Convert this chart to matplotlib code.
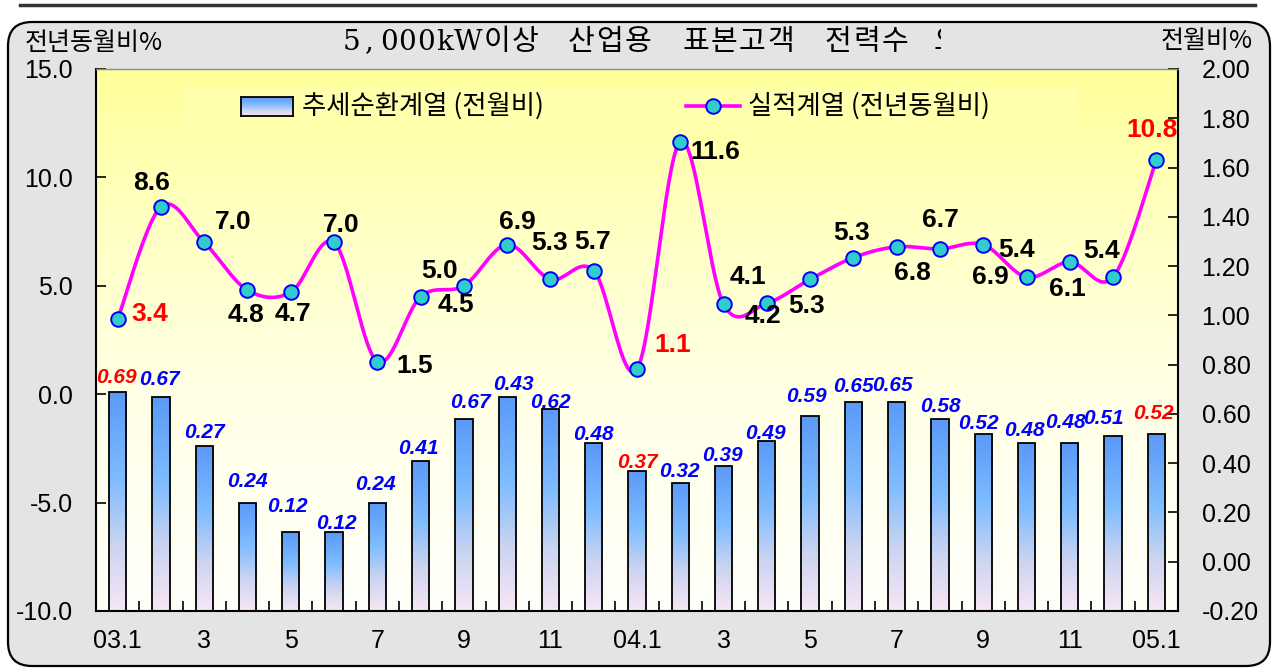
import numpy as np
import matplotlib
matplotlib.use('Agg')
import matplotlib.pyplot as plt
from matplotlib.patches import Rectangle, FancyBboxPatch
from matplotlib.lines import Line2D
from matplotlib.colors import LinearSegmentedColormap
from matplotlib.transforms import IdentityTransform, Bbox

plt.rcParams['font.family'] = ['Liberation Sans', 'Noto Sans CJK KR', 'DejaVu Sans']

# ---------------- data ----------------
month_labels = ['03.1', '', '3', '', '5', '', '7', '', '9', '', '11', '',
                '04.1', '', '3', '', '5', '', '7', '', '9', '', '11', '', '05.1']
trend_mom = [0.69, 0.67, 0.47, 0.24, 0.12, 0.12, 0.24, 0.41, 0.58, 0.67, 0.62, 0.48,
             0.37, 0.32, 0.39, 0.49, 0.59, 0.65, 0.65, 0.58, 0.52, 0.48, 0.48, 0.51, 0.52]
trend_text = ['0.69', '0.67', '0.27', '0.24', '0.12', '0.12', '0.24', '0.41', '0.67', '0.43',
              '0.62', '0.48', '0.37', '0.32', '0.39', '0.49', '0.59', '0.65', '0.65', '0.58',
              '0.52', '0.48', '0.48', '0.51', '0.52']
actual_yoy = [3.45, 8.65, 7.0, 4.8, 4.7, 7.0, 1.5, 4.5, 5.0, 6.9, 5.3, 5.7,
              1.15, 11.65, 4.15, 4.2, 5.3, 6.3, 6.8, 6.7, 6.9, 5.4, 6.1, 5.4, 10.8]
actual_text = ['3.4', '8.6', '7.0', '4.8', '4.7', '7.0', '1.5', '4.5', '5.0', '6.9', '5.3', '5.7',
               '1.1', '11.6', '4.1', '4.2', '5.3', '5.3', '6.8', '6.7', '6.9', '5.4', '6.1', '5.4', '10.8']
highlight_idx = [0, 12, 24]
bar_name = '추세순환계열 (전월비)'
line_name = '실적계열 (전년동월비)'
title = '5,000kW이상 산업용 표본고객 전력수요'
left_unit = '전년동월비%'
right_unit = '전월비%'

# label offsets in pixels (dx right, dy down)
line_off = [(32, -5), (-9, -24), (29, -20), (-1, 25), (2, 22), (7, -17), (37, 4), (35, 8),
            (-24, -15), (10, -23), (-1, -36), (-1, -29), (36, -24), (35, 10), (24, -27),
            (-4, 13), (-4, 27), (-2, -25), (16, 26), (0, -29), (7, 32), (-10, -27),
            (-2, 27), (-12, -26), (-4, -30)]
bar_off = [(-1, -14), (-1, -17), (0, -13), (0, -21), (-3, -26), (2, -9), (-2, -18), (-2, -12),
           (7, -16), (6, -12), (0, -6), (0, -9), (0, -8), (-1, -11), (-1, -10), (-1, -8),
           (-4, -20), (0, -15), (-4, -16), (0, -12), (-5, -10), (-2, -13), (-4, -21),
           (-10, -18), (-3, -20)]

W, H = 1273, 668
fig = plt.figure(figsize=(W / 100, H / 100), dpi=100)
fig.patch.set_facecolor('white')

# frame
frame = FancyBboxPatch((8, H - 666), 1262, 644, boxstyle='round,pad=0,rounding_size=24',
                       transform=IdentityTransform(), facecolor='#E4E4E4', edgecolor='black',
                       linewidth=1.6, zorder=0.2)
fig.add_artist(frame)
fig.add_artist(Line2D([20, 1255], [H - 5, H - 5], transform=IdentityTransform(),
                      color='#333333', linewidth=2.5, zorder=0.3))

# axes
L, R, T, B = 96, 1178, 69, 611
ax = fig.add_axes([L / W, (H - B) / H, (R - L) / W, (B - T) / H])
axb = ax.twinx()
ax.set_zorder(3)
ax.patch.set_visible(False)
axb.set_zorder(2)

n = len(actual_yoy)
x = np.arange(n)
ax.set_xlim(-0.5, n - 0.5)
ax.set_ylim(-10, 15)
axb.set_ylim(-0.2, 2.0)

# background gradient
bg_cmap = LinearSegmentedColormap.from_list('bg', [(0, '#FFFFFB'), (0.4, '#FFFFE6'),
                                                   (0.75, '#FFFFBE'), (1.0, '#FFFF99')])
grad = np.linspace(0, 1, 256).reshape(-1, 1)
axb.imshow(grad, extent=[-0.5, n - 0.5, -0.2, 2.0], origin='lower', aspect='auto',
           cmap=bg_cmap, zorder=0)

# legend band
axb.add_patch(Rectangle(((183 - L) / (R - L), (B - 135) / (B - T)), (1077 - 183) / (R - L),
                        (135 - 87) / (B - T), transform=axb.transAxes, facecolor='#FFFFAC',
                        edgecolor='none', zorder=0.5))

# bars with gradient
bar_cmap = LinearSegmentedColormap.from_list('bar', [(0, '#F8E6F5'), (0.3, '#CBD4F0'),
                                                     (0.6, '#7FBCFF'), (1.0, '#5A99F8')])
bw = 0.40
base = -0.2
heights = np.array(trend_mom) - base
bars = axb.bar(x, heights, bottom=base, width=bw, facecolor='none', edgecolor='black',
               linewidth=1.3, zorder=3)
for rect in bars:
    x0 = rect.get_x()
    im = axb.imshow(grad, extent=[x0, x0 + rect.get_width(), base, base + rect.get_height()],
                    origin='lower', aspect='auto', cmap=bar_cmap, zorder=2)
    im.set_clip_path(rect)
axb.set_xlim(-0.5, n - 0.5)
axb.set_ylim(-0.2, 2.0)

for i, (v, t) in enumerate(zip(trend_mom, trend_text)):
    dx, dy = bar_off[i]
    axb.annotate(t, (x[i], v), xytext=(dx, -dy), textcoords='offset pixels',
                 ha='center', va='center', fontsize=15, fontweight='bold', fontstyle='italic',
                 color='#FF0000' if i in highlight_idx else '#0000FF', zorder=4)

# smoothed line
def smooth(xs, ys, m=24):
    P = np.column_stack([xs, ys]).astype(float)
    P = np.vstack([P[0], P, P[-1]])
    out = []
    t = np.linspace(0, 1, m)[:, None]
    for i in range(1, len(P) - 2):
        p0, p1, p2, p3 = P[i - 1], P[i], P[i + 1], P[i + 2]
        c1 = p1 + (p2 - p0) / 6
        c2 = p2 - (p3 - p1) / 6
        seg = (1 - t) ** 3 * p1 + 3 * (1 - t) ** 2 * t * c1 + 3 * (1 - t) * t ** 2 * c2 + t ** 3 * p2
        out.append(seg if i == 1 else seg[1:])
    return np.vstack(out)

curve = smooth(x, actual_yoy)
ax.plot(curve[:, 0], curve[:, 1], color='#FF00FF', linewidth=2.6, zorder=3)
ax.plot(x, actual_yoy, linestyle='none', marker='o', markersize=10.5,
        markerfacecolor='#33CCCC', markeredgecolor='#0000FF', markeredgewidth=1.4, zorder=4)
for i, (v, t) in enumerate(zip(actual_yoy, actual_text)):
    dx, dy = line_off[i]
    ax.annotate(t, (x[i], v), xytext=(dx, -dy), textcoords='offset pixels',
                ha='center', va='center', fontsize=19, fontweight='bold',
                color='#FF0000' if i in highlight_idx else '#000000', zorder=5)

# axes styling
ax.set_yticks([-10, -5, 0, 5, 10, 15])
ax.set_yticklabels(['-10.0', '-5.0', '0.0', '5.0', '10.0', '15.0'])
ax.tick_params(axis='y', direction='in', length=7, width=1.2, labelsize=18, pad=16.5)
rticks = np.round(np.arange(-0.2, 2.001, 0.2), 2)
axb.set_yticks(rticks)
axb.set_yticklabels([f'{v:.2f}' for v in rticks])
axb.tick_params(axis='y', direction='in', length=7, width=1.2, labelsize=18, pad=17)

ax.set_xticks(np.arange(0.5, n - 0.5, 1))
ax.set_xticklabels([])
ax.tick_params(axis='x', which='major', direction='in', length=7, width=1.2)
ax.set_xticks(x, minor=True)
ax.set_xticklabels(month_labels, minor=True)
ax.tick_params(axis='x', which='minor', length=0, labelsize=18, pad=13)

for sp in ['left', 'bottom', 'right']:
    ax.spines[sp].set_color('black')
    ax.spines[sp].set_linewidth(1.5)
ax.spines['top'].set_color('#8A8A8A')
ax.spines['top'].set_linewidth(1.0)
for sp in axb.spines.values():
    sp.set_visible(False)

# unit labels
fig.text(25 / W, 1 - 43 / H, left_unit, ha='left', va='center', fontsize=18,
         family=['Noto Sans CJK KR', 'Liberation Sans'])
fig.text(1253 / W, 1 - 41 / H, right_unit, ha='right', va='center', fontsize=18,
         family=['Noto Sans CJK KR', 'Liberation Sans'])

# title, drawn with wide letter spacing and clipped at the right as in the source
clip = Bbox([[0, 0], [941, H]])
centers = []
px = 351
for ch in title:
    if ch == 'W':
        px = 468
    elif ch == '이':
        px = 497
    elif ch == '산':
        px = 581.5
    elif ch == '요':
        px = 947
    centers.append(px)
    if ch.isascii() and ch != ' ':
        px += 18.8
    else:
        px += 28.5
for ch, cx in zip(title, centers):
    if ch == ' ':
        continue
    if ch.isascii():
        fam, fs = ['DejaVu Serif'], 20
    else:
        fam, fs = ['Noto Sans CJK KR'], 21
    tt = fig.text(cx, H - 42, ch, transform=IdentityTransform(), ha='center', va='center',
                  fontsize=fs, family=fam, color='black', zorder=6)
    tt.set_clip_box(clip)
    tt.set_clip_on(True)

# legend
icon = fig.add_axes([241 / W, 1 - 116 / H, 52 / W, 19 / H])
icon.imshow(grad, origin='lower', aspect='auto', cmap=bar_cmap)
icon.set_xticks([])
icon.set_yticks([])
for sp in icon.spines.values():
    sp.set_linewidth(1.3)
    sp.set_color('black')
icon.set_zorder(6)
fig.text(302 / W, 1 - 106 / H, bar_name, ha='left', va='center', fontsize=19,
         family=['Noto Sans CJK KR', 'Liberation Sans'], zorder=6)
fig.add_artist(Line2D([686, 740], [H - 106, H - 106], transform=IdentityTransform(),
                      color='#FF00FF', linewidth=2.6, zorder=6))
fig.add_artist(Line2D([713], [H - 106], transform=IdentityTransform(), linestyle='none',
                      marker='o', markersize=10.5, markerfacecolor='#33CCCC',
                      markeredgecolor='#0000FF', markeredgewidth=1.4, zorder=7))
fig.text(748 / W, 1 - 106 / H, line_name, ha='left', va='center', fontsize=19,
         family=['Noto Sans CJK KR', 'Liberation Sans'], zorder=6)

fig.savefig('out.png', dpi=100)
